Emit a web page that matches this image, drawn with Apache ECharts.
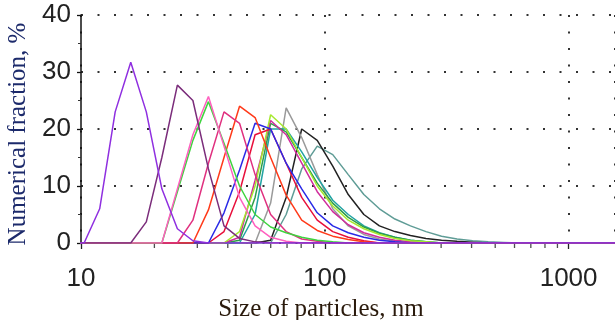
<!DOCTYPE html>
<html>
<head>
<meta charset="utf-8">
<script src="https://cdn.jsdelivr.net/npm/echarts@6/dist/echarts.min.js"></script>
<style>
  html, body { margin: 0; padding: 0; background: #fff; }
  #chart { width: 615px; height: 320px; }
</style>
</head>
<body>
<div id="chart"></div>
<script>
// size classes, nm
const sizes = [8.9, 10.30, 11.93, 13.81, 16.00, 18.53, 21.46, 24.85, 28.77, 33.32,
  38.60, 44.70, 51.77, 59.95, 69.42, 80.40, 93.11, 107.8, 124.8, 144.6,
  167.5, 193.9, 224.6, 260.1, 301.2, 348.8, 404.0, 467.9, 541.8, 627.4,
  726.6, 841.5, 974.5, 1128, 1307, 1514, 1752];

// numerical fraction, %, one value per size class
const violet  = [0, 0, 6, 23, 31.7, 23, 9.5, 2.5, 0.4, 0, 0, 0, 0, 0, 0, 0, 0, 0, 0, 0, 0, 0, 0, 0, 0, 0, 0, 0, 0, 0, 0, 0, 0, 0, 0, 0, 0];
const plum    = [0, 0, 0, 0, 0, 3.7, 15, 27.7, 25, 13, 3, 0.8, 0.2, 0, 0, 0, 0, 0, 0, 0, 0, 0, 0, 0, 0, 0, 0, 0, 0, 0, 0, 0, 0, 0, 0, 0, 0];
const pink    = [0, 0, 0, 0, 0, 0, 0, 9.5, 19, 25.7, 17, 8, 3, 1, 0.3, 0, 0, 0, 0, 0, 0, 0, 0, 0, 0, 0, 0, 0, 0, 0, 0, 0, 0, 0, 0, 0, 0];
const lime    = [0, 0, 0, 0, 0, 0, 0, 9, 18, 24.8, 17.5, 10, 5, 2.8, 1.8, 1, 0.5, 0.2, 0, 0, 0, 0, 0, 0, 0, 0, 0, 0, 0, 0, 0, 0, 0, 0, 0, 0, 0];
const rose    = [0, 0, 0, 0, 0, 0, 0, 0, 4, 14, 23, 21, 12, 5, 2, 0.7, 0.3, 0, 0, 0, 0, 0, 0, 0, 0, 0, 0, 0, 0, 0, 0, 0, 0, 0, 0, 0, 0];
const orange  = [0, 0, 0, 0, 0, 0, 0, 0, 0, 5.8, 15, 24, 22, 15, 8.4, 4, 2.2, 1.2, 0.6, 0.2, 0, 0, 0, 0, 0, 0, 0, 0, 0, 0, 0, 0, 0, 0, 0, 0, 0];
const blue    = [0, 0, 0, 0, 0, 0, 0, 0, 0, 0, 5.3, 12.8, 21, 20, 14, 9.5, 5.3, 3, 1.8, 1, 0.5, 0.2, 0, 0, 0, 0, 0, 0, 0, 0, 0, 0, 0, 0, 0, 0, 0];
const crimson = [0, 0, 0, 0, 0, 0, 0, 0, 0, 0, 2, 9, 19, 20, 14, 8, 4, 2, 1, 0.4, 0, 0, 0, 0, 0, 0, 0, 0, 0, 0, 0, 0, 0, 0, 0, 0, 0];
const yellow  = [0, 0, 0, 0, 0, 0, 0, 0, 0, 0, 0, 2, 10, 22.5, 20, 15, 10, 6.5, 4, 2.5, 1.5, 0.8, 0.4, 0.2, 0, 0, 0, 0, 0, 0, 0, 0, 0, 0, 0, 0, 0];
const magenta = [0, 0, 0, 0, 0, 0, 0, 0, 0, 0, 0, 1, 11, 21.5, 19, 14, 9, 5.5, 3.2, 1.8, 1, 0.5, 0.2, 0, 0, 0, 0, 0, 0, 0, 0, 0, 0, 0, 0, 0, 0];
const green   = [0, 0, 0, 0, 0, 0, 0, 0, 0, 0, 0, 0.5, 8, 21, 19.5, 15, 10.5, 7, 4.5, 2.8, 1.7, 1, 0.5, 0.2, 0, 0, 0, 0, 0, 0, 0, 0, 0, 0, 0, 0, 0];
const cyan    = [0, 0, 0, 0, 0, 0, 0, 0, 0, 0, 0, 0, 5, 20, 20, 16, 11.5, 7.5, 5, 3, 1.8, 1, 0.5, 0.2, 0, 0, 0, 0, 0, 0, 0, 0, 0, 0, 0, 0, 0];
const gray    = [0, 0, 0, 0, 0, 0, 0, 0, 0, 0, 0, 0, 0, 7, 23.7, 18.5, 12, 6, 3, 1.5, 0.7, 0.3, 0, 0, 0, 0, 0, 0, 0, 0, 0, 0, 0, 0, 0, 0, 0];
const black   = [0, 0, 0, 0, 0, 0, 0, 0, 0, 0, 0, 0, 0, 0.5, 8, 20, 18, 13.5, 8.5, 5, 3, 2, 1.3, 0.8, 0.5, 0.3, 0.15, 0, 0, 0, 0, 0, 0, 0, 0, 0, 0];
const teal    = [0, 0, 0, 0, 0, 0, 0, 0, 0, 0, 0, 0, 0, 0, 5, 13, 17, 15.5, 12, 8.5, 6, 4.2, 3, 2, 1.2, 0.7, 0.4, 0.2, 0.1, 0, 0, 0, 0, 0, 0, 0, 0];

const curves = [
  {data: teal, color: '#5f9c96'},
  {data: black, color: '#222222'},
  {data: gray, color: '#9a9a9a'},
  {data: cyan, color: '#22a3a3'},
  {data: green, color: '#2e9e4a'},
  {data: magenta, color: '#d02c9c'},
  {data: yellow, color: '#a6e82e'},
  {data: crimson, color: '#e8103c'},
  {data: blue, color: '#2a2ae6'},
  {data: orange, color: '#ff3a1a'},
  {data: rose, color: '#e0307f'},
  {data: lime, color: '#3fd33f'},
  {data: pink, color: '#ff5fbf'},
  {data: plum, color: '#7b2d7b'},
  {data: violet, color: '#8f2fe0'}
];

// unlabelled ticks between decades on the size axis
const minorSizes = [20, 30, 40, 50, 60, 70, 80, 90, 200, 300, 400, 500, 600, 700, 800, 900];
const decadeLabels = [10, 100, 1000];

const dots = {color: '#333', width: 2, type: [2, 14.5]};

const series = curves.map(c => ({
  type: 'line',
  data: sizes.map((s, i) => [s, c.data[i]]),
  showSymbol: false,
  lineStyle: {width: 1.5, color: c.color},
  itemStyle: {color: c.color},
  silent: true
}));
series.push({
  type: 'scatter',
  data: minorSizes.map(s => [s, 0]),
  symbol: 'rect',
  symbolSize: [1.3, 4],
  symbolOffset: [0, 3],
  itemStyle: {color: '#222'},
  silent: true,
  z: 1
});

const option = {
  animation: false,
  grid: {left: 81, right: 0, top: 15, bottom: 77, containLabel: false, outerBoundsMode: 'none'},
  xAxis: {
    type: 'log',
    logBase: 10,
    min: 10,
    max: 1550,
    axisLine: {show: false},
    axisTick: {show: true, length: 6, lineStyle: {color: '#222', width: 1.3}},
    axisLabel: {
      fontSize: 26, color: '#222', margin: 23, fontFamily: 'Liberation Sans',
      showMaxLabel: false,
      formatter: v => decadeLabels.indexOf(Math.round(v)) >= 0 ? String(Math.round(v)) : ''
    },
    splitLine: {show: true, lineStyle: dots},
    name: 'Size of particles, nm',
    nameLocation: 'middle',
    nameGap: 51,
    nameTextStyle: {fontFamily: 'Liberation Serif', fontSize: 25, color: '#2a1a0c', padding: [0, 54, 0, 0]}
  },
  yAxis: {
    type: 'value',
    min: 0,
    max: 40,
    interval: 10,
    axisLine: {show: true, lineStyle: {color: '#111', width: 1.5}},
    axisTick: {show: true, length: 4, lineStyle: {color: '#111', width: 1.3}},
    minorTick: {show: true, splitNumber: 2, length: 3, lineStyle: {color: '#333', width: 1}},
    axisLabel: {fontSize: 26, color: '#222', margin: 10, fontFamily: 'Liberation Sans'},
    splitLine: {show: true, lineStyle: dots},
    name: 'Numerical fraction, %',
    nameLocation: 'middle',
    nameGap: 41,
    nameTextStyle: {fontFamily: 'Liberation Serif', fontSize: 25, color: '#1c2a6b', padding: [0, 10, 0, 0]}
  },
  series: series
};

const chart = echarts.init(document.getElementById('chart'), null, {renderer: 'canvas'});
chart.setOption(option);
</script>
</body>
</html>
